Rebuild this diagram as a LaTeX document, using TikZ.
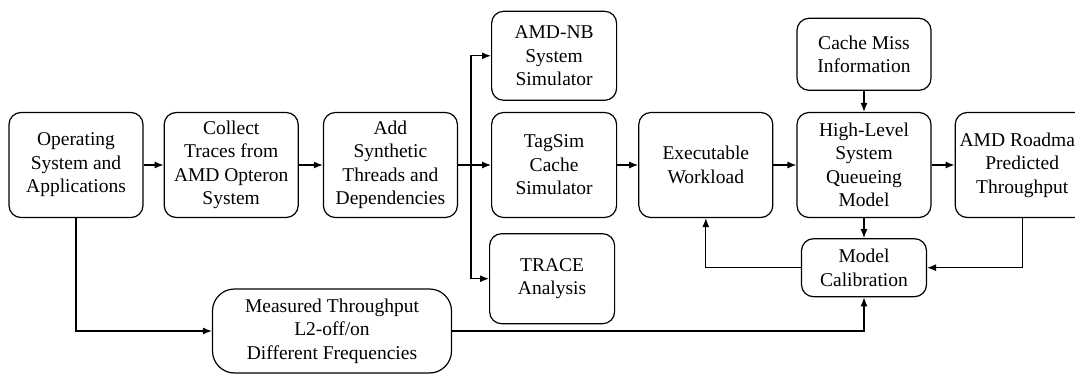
\documentclass[tikz,border=0pt]{standalone}
\usepackage{fontspec}
\setmainfont{Liberation Serif}
\usetikzlibrary{arrows.meta, positioning}

\begin{document}
\begin{tikzpicture}[
    x=1pt, y=-1pt,
    % Define the style for each block
    block/.style={rectangle, draw, line width=1.2pt, rounded corners=12pt, align=center,
        font=\fontsize{19.5}{23.5}\selectfont, inner sep=2pt,
        minimum width=134pt, minimum height=105pt},
    smallblock/.style={block, minimum width=125pt},
    connector/.style={-{Latex[length=9pt, width=7pt]}, line width=1.2pt},
]
\useasboundingbox (0,0) rectangle (1075,374);

% Place nodes using explicit positioning

\node [block] (OS) at (76,165) {Operating\\System and\\Applications};
\node [block, right=20pt of OS] (Collect) {Collect\\Traces from\\AMD Opteron\\System};
\node [block, right=24pt of Collect] (Synth) {Add\\Synthetic\\Threads and\\Dependencies};
\node [smallblock, right=33pt of Synth] (TagSim) {TagSim\\Cache\\Simulator};
\node [block, right=21pt of TagSim] (Exec) {Executable\\Workload};
\node [block, right=23pt of Exec] (Queue) {High-Level\\System\\Queueing\\Model};
\node [block, right=23pt of Queue] (Roadmap) {AMD Roadmap\\Predicted\\Throughput};

\node [smallblock, minimum height=89pt, above=11pt of TagSim] (AmdNB) {AMD-NB\\System\\Simulator};
\node [smallblock, minimum height=90pt, below=15pt of TagSim, xshift=-2pt] (Trace) {TRACE\\Analysis};

\node [block, minimum height=72pt, above=21pt of Queue] (Miss) {Cache Miss\\Information};
\node [smallblock, minimum height=58pt, below=20pt of Queue] (Calib) {Model\\Calibration};

\node [block, rounded corners=22pt, minimum width=239pt, minimum height=84pt] (Measured) at (332,331)
    {Measured Throughput\\L2-off/on\\Different Frequencies};

\coordinate [right=13pt of Synth] (Split);

% Draw connectors
\draw [connector] (OS) -- (Collect);
\draw [connector] (Collect) -- (Synth);
\draw [connector] (Synth) -- (TagSim);
\draw [connector] (TagSim) -- (Exec);
\draw [connector] (Exec) -- (Queue);
\draw [connector] (Queue) -- (Roadmap);

\draw [connector] (Split) |- (AmdNB.west);
\draw [connector] (Split) |- (Trace.west);

\draw [connector] (Miss) -- (Queue);
\draw [connector] (Queue) -- (Calib);
\draw [connector] (Calib.west) -| (Exec.south);
\draw [connector] (Roadmap.south) |- (Calib.east);

\draw [connector] (OS.south) |- (Measured.west);
\draw [connector] (Measured.east) -| (Calib.south);
\end{tikzpicture}
\end{document}
